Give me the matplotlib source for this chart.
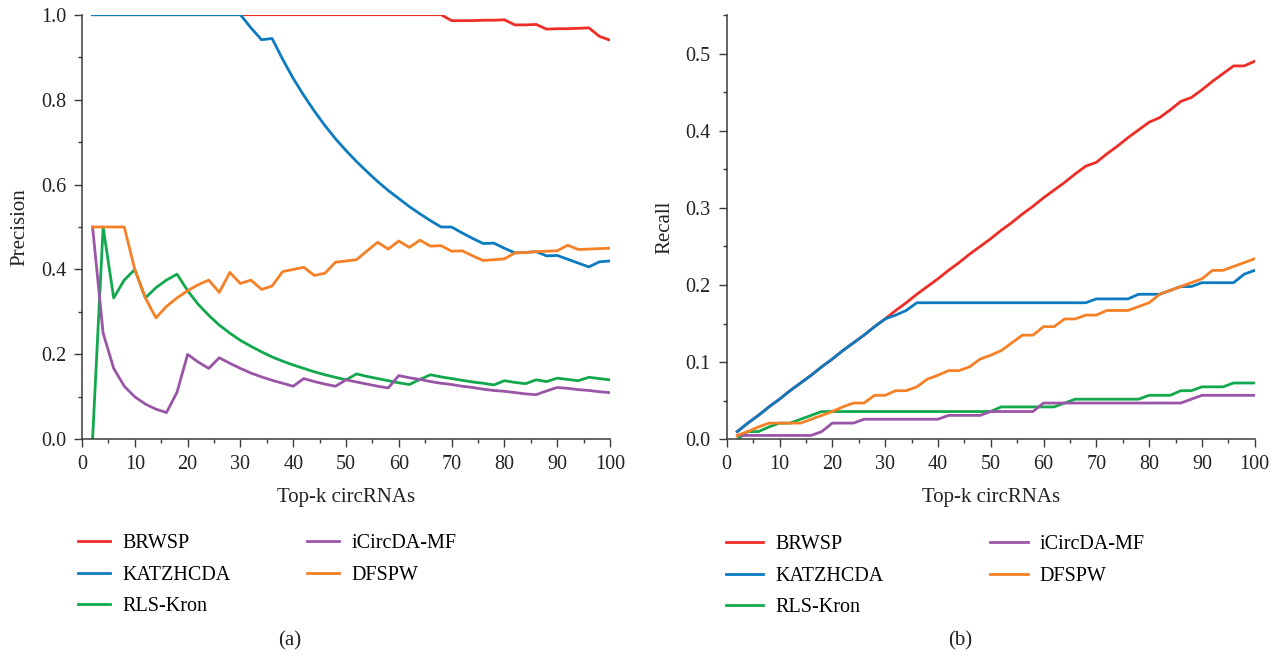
import matplotlib
matplotlib.use("Agg")
import matplotlib.pyplot as plt
from matplotlib.ticker import MultipleLocator, FormatStrFormatter

# top-k cut-offs shared by both panels
top_k = [2, 4, 6, 8, 10, 12, 14, 16, 18, 20,
         22, 24, 26, 28, 30, 32, 34, 36, 38, 40,
         42, 44, 46, 48, 50, 52, 54, 56, 58, 60,
         62, 64, 66, 68, 70, 72, 74, 76, 78, 80,
         82, 84, 86, 88, 90, 92, 94, 96, 98, 100]

methods = ["BRWSP", "KATZHCDA", "RLS-Kron", "iCircDA-MF", "DFSPW"]
colors = ["#EE2D26", "#0C7BC0", "#12A84D", "#9A56A6", "#F58026"]

# (a) precision
prec_brwsp = [1.0, 1.0, 1.0, 1.0, 1.0, 1.0, 1.0, 1.0, 1.0, 1.0,
              1.0, 1.0, 1.0, 1.0, 1.0, 1.0, 1.0, 1.0, 1.0, 1.0,
              1.0, 1.0, 1.0, 1.0, 1.0, 1.0, 1.0, 1.0, 1.0, 1.0,
              1.0, 1.0, 1.0, 1.0, 0.986, 0.986, 0.986, 0.987, 0.987, 0.988,
              0.976, 0.976, 0.977, 0.966, 0.967, 0.967, 0.968, 0.969, 0.949, 0.940]
prec_katz = [1.0, 1.0, 1.0, 1.0, 1.0, 1.0, 1.0, 1.0, 1.0, 1.0,
             1.0, 1.0, 1.0, 1.0, 1.0, 0.969, 0.941, 0.944, 0.895, 0.850,
             0.810, 0.773, 0.739, 0.708, 0.680, 0.654, 0.630, 0.607, 0.586, 0.567,
             0.548, 0.531, 0.515, 0.500, 0.500, 0.486, 0.473, 0.461, 0.462, 0.450,
             0.439, 0.440, 0.442, 0.432, 0.433, 0.424, 0.415, 0.406, 0.418, 0.420]
prec_rls = [0.000, 0.500, 0.333, 0.375, 0.400, 0.333, 0.357, 0.375, 0.389, 0.350,
            0.318, 0.292, 0.269, 0.250, 0.233, 0.219, 0.206, 0.194, 0.184, 0.175,
            0.167, 0.159, 0.152, 0.146, 0.140, 0.154, 0.148, 0.143, 0.138, 0.133,
            0.129, 0.141, 0.152, 0.147, 0.143, 0.139, 0.135, 0.132, 0.128, 0.138,
            0.134, 0.131, 0.140, 0.136, 0.144, 0.141, 0.138, 0.146, 0.143, 0.140]
prec_icirc = [0.500, 0.250, 0.167, 0.125, 0.100, 0.083, 0.071, 0.063, 0.111, 0.200,
              0.182, 0.167, 0.192, 0.179, 0.167, 0.156, 0.147, 0.139, 0.132, 0.125,
              0.143, 0.136, 0.130, 0.125, 0.140, 0.135, 0.130, 0.125, 0.121, 0.150,
              0.145, 0.141, 0.136, 0.132, 0.129, 0.125, 0.122, 0.118, 0.115, 0.113,
              0.110, 0.107, 0.105, 0.114, 0.122, 0.120, 0.117, 0.115, 0.112, 0.110]
prec_dfspw = [0.500, 0.500, 0.500, 0.500, 0.400, 0.333, 0.286, 0.313, 0.333, 0.350,
              0.364, 0.375, 0.346, 0.393, 0.367, 0.375, 0.353, 0.361, 0.395, 0.400,
              0.405, 0.386, 0.391, 0.417, 0.420, 0.423, 0.444, 0.464, 0.448, 0.467,
              0.452, 0.469, 0.455, 0.456, 0.443, 0.444, 0.432, 0.421, 0.423, 0.425,
              0.439, 0.440, 0.442, 0.443, 0.444, 0.457, 0.447, 0.448, 0.449, 0.450]

# (b) recall
rec_brwsp = [0.010, 0.021, 0.031, 0.042, 0.052, 0.063, 0.073, 0.083, 0.094, 0.104,
             0.115, 0.125, 0.135, 0.146, 0.156, 0.167, 0.177, 0.188, 0.198, 0.208,
             0.219, 0.229, 0.240, 0.250, 0.260, 0.271, 0.281, 0.292, 0.302, 0.313,
             0.323, 0.333, 0.344, 0.354, 0.359, 0.370, 0.380, 0.391, 0.401, 0.411,
             0.417, 0.427, 0.438, 0.443, 0.453, 0.464, 0.474, 0.484, 0.484, 0.490]
rec_katz = [0.010, 0.021, 0.031, 0.042, 0.052, 0.063, 0.073, 0.083, 0.094, 0.104,
            0.115, 0.125, 0.135, 0.146, 0.156, 0.161, 0.167, 0.177, 0.177, 0.177,
            0.177, 0.177, 0.177, 0.177, 0.177, 0.177, 0.177, 0.177, 0.177, 0.177,
            0.177, 0.177, 0.177, 0.177, 0.182, 0.182, 0.182, 0.182, 0.188, 0.188,
            0.188, 0.193, 0.198, 0.198, 0.203, 0.203, 0.203, 0.203, 0.214, 0.219]
rec_rls = [0.000, 0.010, 0.010, 0.016, 0.021, 0.021, 0.026, 0.031, 0.036, 0.036,
           0.036, 0.036, 0.036, 0.036, 0.036, 0.036, 0.036, 0.036, 0.036, 0.036,
           0.036, 0.036, 0.036, 0.036, 0.036, 0.042, 0.042, 0.042, 0.042, 0.042,
           0.042, 0.047, 0.052, 0.052, 0.052, 0.052, 0.052, 0.052, 0.052, 0.057,
           0.057, 0.057, 0.063, 0.063, 0.068, 0.068, 0.068, 0.073, 0.073, 0.073]
rec_icirc = [0.005, 0.005, 0.005, 0.005, 0.005, 0.005, 0.005, 0.005, 0.010, 0.021,
             0.021, 0.021, 0.026, 0.026, 0.026, 0.026, 0.026, 0.026, 0.026, 0.026,
             0.031, 0.031, 0.031, 0.031, 0.036, 0.036, 0.036, 0.036, 0.036, 0.047,
             0.047, 0.047, 0.047, 0.047, 0.047, 0.047, 0.047, 0.047, 0.047, 0.047,
             0.047, 0.047, 0.047, 0.052, 0.057, 0.057, 0.057, 0.057, 0.057, 0.057]
rec_dfspw = [0.005, 0.010, 0.016, 0.021, 0.021, 0.021, 0.021, 0.026, 0.031, 0.036,
             0.042, 0.047, 0.047, 0.057, 0.057, 0.063, 0.063, 0.068, 0.078, 0.083,
             0.089, 0.089, 0.094, 0.104, 0.109, 0.115, 0.125, 0.135, 0.135, 0.146,
             0.146, 0.156, 0.156, 0.161, 0.161, 0.167, 0.167, 0.167, 0.172, 0.177,
             0.188, 0.193, 0.198, 0.203, 0.208, 0.219, 0.219, 0.224, 0.229, 0.234]

precision = [prec_brwsp, prec_katz, prec_rls, prec_icirc, prec_dfspw]
recall = [rec_brwsp, rec_katz, rec_rls, rec_icirc, rec_dfspw]

W, H = 1282, 657
SPINE = "#3a3a3a"
TEXT = "#222222"

plt.rcParams["font.family"] = ["Liberation Serif", "DejaVu Serif"]


def px(x, y):
    """Pixel position (from top-left) to figure fraction."""
    return x / W, 1 - y / H


def style_axis(ax, ymax, ymajor, yminor, ylabel):
    ax.set_xlim(0, 100)
    ax.set_ylim(0, ymax)
    ax.xaxis.set_major_locator(MultipleLocator(10))
    ax.xaxis.set_minor_locator(MultipleLocator(5))
    ax.yaxis.set_major_locator(MultipleLocator(ymajor))
    ax.yaxis.set_minor_locator(MultipleLocator(yminor))
    ax.yaxis.set_major_formatter(FormatStrFormatter("%.1f"))
    for side in ("top", "right"):
        ax.spines[side].set_visible(False)
    for side in ("left", "bottom"):
        ax.spines[side].set_color(SPINE)
        ax.spines[side].set_linewidth(1.1)
    ax.tick_params(which="major", direction="out", length=5.5, width=1.0,
                   color=SPINE, labelsize=14.5, pad=6, labelcolor=TEXT)
    ax.tick_params(which="minor", direction="out", length=3, width=1.0,
                   color=SPINE)
    ax.set_xlabel("Top-k circRNAs", fontsize=15, labelpad=10, color=TEXT)
    ax.set_ylabel(ylabel, fontsize=15, labelpad=8, color=TEXT)


def draw_panel(ax, series):
    handles = []
    for name, values, c in zip(methods, series, colors):
        line, = ax.plot(top_k, values, color=c, lw=2.0, label=name)
        handles.append(line)
    return handles


fig = plt.figure(figsize=(W / 100, H / 100), dpi=100)

x0, y0 = px(82, 439.3)
ax_p = fig.add_axes([x0, y0, 528 / W, 424.6 / H])
x1, _ = px(726.7, 439.3)
ax_r = fig.add_axes([x1, y0, 528 / W, 424.3 / H])

h_p = draw_panel(ax_p, precision)
h_r = draw_panel(ax_r, recall)

style_axis(ax_p, 1.0, 0.2, 0.1, "Precision")
style_axis(ax_r, 0.55, 0.1, 0.05, "Recall")

leg_kw = dict(ncol=2, loc="upper left", frameon=False, fontsize=14.5,
              borderpad=0, borderaxespad=0, labelspacing=0.62,
              bbox_transform=fig.transFigure, handletextpad=0.6)
ax_p.legend(handles=h_p, bbox_to_anchor=px(78, 534), handlelength=1.6,
            columnspacing=3.8, **leg_kw)
ax_r.legend(handles=h_r, bbox_to_anchor=px(726, 535), handlelength=1.85,
            columnspacing=5.3, **leg_kw)

fig.text(*px(290, 641), "(a)", ha="center", va="center", fontsize=15,
         color=TEXT)
fig.text(*px(960, 641), "(b)", ha="center", va="center", fontsize=15,
         color=TEXT)

fig.savefig("out.png", dpi=100)
